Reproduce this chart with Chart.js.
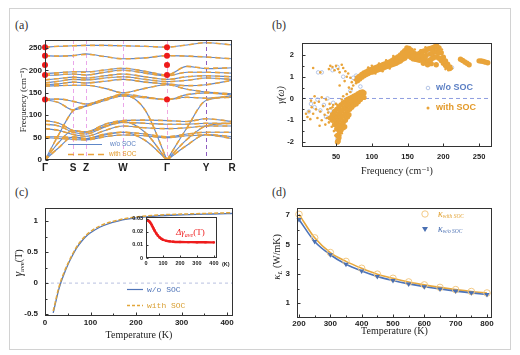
<!DOCTYPE html>
<html><head><meta charset="utf-8">
<script src="https://cdn.jsdelivr.net/npm/chart.js@4.4.1/dist/chart.umd.min.js"></script>
<style>
html,body{margin:0;padding:0;background:#fff;width:520px;height:355px;overflow:hidden;position:relative}
.frame{position:absolute;left:9px;top:8px;width:500px;height:340px;border:1px solid #d2d2d2}
canvas{position:absolute}
.lbl{position:absolute;font-family:'Liberation Serif',serif;font-size:12px;line-height:12px;color:#333}
</style></head><body>
<div class="frame"></div>
<div class="lbl" style="left:15px;top:19px">(a)</div>
<div class="lbl" style="left:272px;top:19px">(b)</div>
<div class="lbl" style="left:15px;top:186px">(c)</div>
<div class="lbl" style="left:272px;top:186px">(d)</div>
<canvas id="ca" width="240" height="150" style="left:10px;top:30px"></canvas>
<canvas id="cb" width="240" height="150" style="left:265px;top:30px"></canvas>
<canvas id="cc" width="240" height="150" style="left:10px;top:195px"></canvas>
<canvas id="ci" width="118" height="60" style="left:118px;top:212px"></canvas>
<canvas id="cd" width="240" height="150" style="left:265px;top:195px"></canvas>
<script>
// ================= DATA =================
// (a) phonon band structure
const kLabels = ['Γ','S','Z','W','Γ','Y','R'];
const kPos = [0, 28, 41, 78, 122, 161, 187];
const kPath = [0, 14, 28, 41, 60, 78, 100, 122, 142, 161, 187];
const freqTicks = [0, 50, 100, 150, 200, 250];
const bandsWoSOC = [
  [252,254,255,256,256,255,254,252,257,262,257],
  [233,232,233,237,231,226,228,233,232,230,226],
  [193,195,197,197,201,205,198,190,209,204,206],
  [189,190,192,190,196,201,194,188,196,196,194],
  [179,182,185,183,188,192,186,180,186,188,186],
  [172,176,180,179,183,186,180,175,178,183,180],
  [168,170,174,172,176,180,174,170,166,168,178],
  [165,166,167,167,160,150,160,168,158,152,148],
  [136,136,131,125,136,147,141,135,146,150,145],
  [135,128,112,120,133,143,139,135,140,138,143],
  [0,58,110,121,136,145,112,0,72,133,140],
  [0,40,66,62,76,86,62,0,46,76,82],
  [0,28,52,48,56,62,44,0,33,57,52],
  [88,82,66,63,80,88,89,88,86,92,86],
  [80,76,62,58,74,84,82,80,80,82,82],
  [70,66,57,53,66,76,72,70,72,76,76],
  [52,52,50,48,58,62,58,52,58,62,62],
  [50,48,46,45,52,56,54,50,54,56,48]
];
const bandsWithSOC = [
  [252,254,255,256,256,255,254,252,257,262,257],
  [233,232,233,236,231,226,228,233,232,230,226],
  [192,195,197,196,201,205,198,190,209,205,206],
  [189,191,192,190,196,200,194,188,196,196,194],
  [179,182,185,183,188,192,186,180,186,188,186],
  [172,176,180,179,183,186,180,175,178,183,180],
  [168,170,174,172,176,180,174,170,166,168,178],
  [165,166,167,167,160,150,160,168,158,152,148],
  [136,136,131,125,136,147,141,135,146,150,145],
  [135,128,112,120,133,143,139,135,140,138,143],
  [0,58,110,121,136,145,112,0,72,133,140],
  [0,40,66,62,76,86,62,0,46,76,82],
  [0,28,52,48,56,62,44,0,33,57,52],
  [88,82,66,63,80,88,89,88,86,92,86],
  [80,76,62,58,74,84,82,80,80,82,82],
  [70,66,57,53,66,76,72,70,72,76,76],
  [52,52,50,48,58,62,58,52,58,62,62],
  [50,48,46,45,52,56,54,50,54,56,48]
];
const acousticBands = [10, 11, 12];
const gammaModes = [252, 233, 212, 190, 135];

// (b) mode Grüneisen parameters
const omegaTicks = [50, 100, 150, 200, 250];
const gammaTicks = [-2, -1, 0, 1, 2];
const gammaMinor = [-1.5, -0.5, 0.5, 1.5];
const gammaWoSOC = [[25,1.2],[30,1.2],[20,-0.4],[24,-0.05],[33,-0.3],[38,0.0],[42,-0.55],[46,-0.2],[48,-0.95],[52,-1.25],[55,-1.5],[58,-0.55],[62,-0.25],[45,1.3],[52,1.45],[60,1.0],[70,0.35],[74,0.95],[78,1.05],[84,0.55],[88,1.0],[96,1.25],[108,1.45],[126,1.62],[140,1.95],[150,2.15],[158,2.0],[168,2.05],[178,2.15],[190,2.3],[199,1.8],[52,-1.85],[36,-0.85],[15,-0.25],[66,-0.75],[80,-0.05],[72,-0.2],[12,-0.6],[28,-0.55],[57,-1.1],[64,-0.5],[86,0.25],[226,1.75],[252,1.7],[212,1.42],[184,1.9],[165,1.88]];
const gammaWithSOC = [[10,-0.85],[12,-0.6],[14,-0.95],[16,-0.4],[18,-0.7],[20,-0.2],[22,-0.5],[24,-0.9],[26,-0.15],[28,-0.6],[30,-1.0],[32,-0.35],[34,-0.75],[36,-0.05],[38,-0.5],[40,-1.1],[41,-0.25],[43,-0.8],[44,-1.3],[45,-0.4],[46,-1.0],[47,-1.5],[49,-1.7],[56,-1.7],[58,-1.6],[35,-1.2],[27,-1.25],[15,-0.1],[8,-0.7],
  [18,1.4],[28,1.2],[40,1.35],[42,1.5],[45,1.45],[48,1.3],[50,1.5],[53,1.35],[55,1.2],[58,1.55],[60,1.4],[63,1.25],[65,1.0],[67,1.15],[70,0.95],[72,0.75],[74,0.6],[76,0.85],[78,0.7],[62,0.8],[55,0.6],[68,0.5],[20,0.1],[30,0.05],
  [65,0.2],[60,0.1],[70,0.3],[72,0.45],[58,-0.05],[100,1.5],[110,1.6],[120,1.75],[130,1.95],[95,1.42],[105,1.15],[115,1.25],[125,1.38],[160,2.25],[168,2.22],[175,2.35],[198,2.25],[203,1.35],[207,1.3],[212,1.38],
  [42,-0.45],[44,-0.7],[46,-0.3],[39,-0.65],[37,-0.9],[50,-0.25],[52,-0.3]];
const gammaWithSOCDense = [[80,0.82],[80,0.95],[83,0.9],[83,1.02],[86,0.98],[86,1.1],[89,1.05],[89,1.17],[92,1.1],[92,1.22],[95,1.15],[95,1.28],[98,1.2],[98,1.32],[101,1.22],[101,1.35],[104,1.26],[104,1.4],[107,1.3],[107,1.44],[110,1.33],[110,1.48],[113,1.36],[113,1.52],[116,1.4],[116,1.56],[119,1.45],[119,1.6],[122,1.48],[122,1.64],[125,1.52],[125,1.68],[128,1.55],[128,1.74],[131,1.58],[131,1.8],[134,1.62],[134,1.86],[137,1.68],[137,1.92],[140,1.72],[140,2.0],[143,1.8],[143,2.1],[146,1.85],[146,2.2],[149,1.95],[149,2.32],[152,1.95],[152,2.3],[155,1.88],[155,2.22],[158,1.82],[158,2.1],[161,1.8],[161,2.05],[164,1.78],[164,2.02],[167,1.76],[167,2.08],[170,1.8],[170,2.15],[173,1.82],[173,2.18],[176,1.75],[176,2.2],[179,1.7],[179,2.28],[182,1.78],[182,2.3],[185,1.85],[185,2.33],[188,1.9],[188,2.38],[191,1.92],[191,2.4],[194,1.85],[194,2.32],[197,1.75],[197,2.1],[200,1.62],[200,1.9],[203,1.52],[203,1.72],[206,1.45],[206,1.58],[209,1.38],[209,1.45],
  [146,2.02],[149,2.12],[152,2.12],[155,2.05],[170,1.98],[176,1.98],[182,2.05],[185,2.1],[188,2.15],[191,2.15],[194,2.1],[140,1.86],[134,1.74],[128,1.65],[158,1.96],[164,1.9],[183,1.6],[190,1.55],[178,1.55],[172,1.62],
  [224,1.8],[227,1.75],[230,1.68],[233,1.62],[236,1.55],[250,1.73],[253,1.72],[256,1.7],[259,1.67],[262,1.64],
  [48,-0.6],[48,-0.9],[48,-1.2],[51,-0.5],[51,-0.8],[51,-1.1],[51,-1.4],[52,-1.7],[53,-1.95],[52,-2.0],[54,-1.8],[54,-0.4],[54,-0.7],[54,-1.0],[54,-1.3],[55,-1.55],[57,-0.3],[57,-0.6],[57,-0.9],[57,-1.2],[57,-1.45],[60,-0.2],[60,-0.5],[60,-0.8],[60,-1.1],[60,-1.35],[63,-0.15],[63,-0.4],[63,-0.7],[63,-1.0],[62,-1.3],[66,-0.05],[66,-0.3],[66,-0.55],[66,-0.85],[69,0.0],[69,-0.25],[69,-0.5],[68,-0.75],[72,0.05],[72,-0.15],[72,-0.4],[75,0.1],[75,-0.1],[75,-0.3],[78,0.15],[78,-0.05],[78,-0.25],[81,0.22],[81,0.02],[81,-0.15],[84,0.28],[84,0.08],[84,-0.05],[87,0.3],[87,0.12],[89,0.25],[89,0.05],
  [45,-0.75],[45,-1.0],[42,-0.9]];

// (c) average Grüneisen parameter
const tempC = [18,20,25,30,35,40,50,60,70,80,90,100,120,140,160,180,200,250,300,350,400,413];
const gAveWoSOC = [-0.48,-0.42,-0.26,-0.11,0.01,0.11,0.29,0.44,0.57,0.67,0.75,0.81,0.90,0.96,1.00,1.03,1.05,1.085,1.10,1.11,1.12,1.122];
const gAveWithSOC = [-0.45,-0.39,-0.23,-0.08,0.04,0.14,0.31,0.46,0.59,0.69,0.77,0.83,0.92,0.975,1.015,1.045,1.065,1.097,1.112,1.122,1.132,1.134];
const tempTicksC = [0,100,200,300,400];
const tempMinorC = [50,150,250,350];
const gAveTicks = [-0.5,0,0.5,1];
const gAveMinor = [-0.25,0.25,0.75];
const tempInset = [5,10,15,20,25,30,35,40,45,50,60,70,80,90,100,120,140,160,200,250,300,350,400];
const dGamma = [0.0292,0.029,0.0285,0.028,0.0272,0.0262,0.025,0.0238,0.0225,0.0212,0.019,0.0172,0.0158,0.0148,0.014,0.0132,0.0128,0.0125,0.0123,0.0122,0.0121,0.0121,0.012];
const insetXTicks = [0,100,200,300,400];
const insetYTicks = [0,0.01,0.02,0.03];

// (d) lattice thermal conductivity
const tempD = [200,250,300,350,400,450,500,550,600,650,700,750,800];
const kappaWithSOC = [7.05,5.45,4.45,3.85,3.38,2.98,2.7,2.45,2.25,2.08,1.93,1.8,1.7];
const kappaWoSOC = [6.7,5.2,4.3,3.65,3.2,2.83,2.55,2.32,2.13,1.97,1.83,1.71,1.6];
const tempTicksD = [200,300,400,500,600,700,800];
const tempMinorD = [250,350,450,550,650,750];
const kappaTicks = [1,3,5,7];
const kappaMinor = [2,4,6];

// ================= HELPERS =================
const SERIF = "'Liberation Serif', 'DejaVu Serif', serif";
const SANS = "'Liberation Sans', Arial, sans-serif";
const MONO = "'Liberation Mono', 'DejaVu Sans Mono', monospace";
Chart.defaults.font.family = SANS;
Chart.defaults.color = '#222';
Chart.defaults.animation = false;
Chart.defaults.events = [];
Chart.defaults.plugins.legend.display = false;
Chart.defaults.plugins.tooltip.enabled = false;

const BLUE = '#6087c7', ORANGE = '#eba33b';

function axis(o){
  const isX = o.axis === 'x';
  return {
    type:'linear', min:o.min, max:o.max,
    grid:{display:false, drawTicks:false}, border:{display:false},
    afterBuildTicks: s => { s.ticks = o.ticks.map(v => ({value:v})); },
    afterFit: s => { if (isX) s.height = o.size; else s.width = o.size;
      s.paddingLeft = 0; s.paddingRight = 0; s.paddingTop = 0; s.paddingBottom = 0; },
    ticks:{autoSkip:false, maxRotation:0, minRotation:0, padding:o.pad,
      font:{size:o.fs || 8, weight:'bold'}, color:'#222', callback:o.fmt || (v => String(v))},
    title: o.title ? {display:true, text:o.title, color:'#222',
      font:{family:SERIF, size:o.tfs || 10, style:o.tstyle || 'normal'}, padding:o.tpad} : {display:false}
  };
}
function pts(xs, ys){ return xs.map((x,i) => ({x, y:ys[i]})); }
function pairs(arr){ return arr.map(p => ({x:p[0], y:p[1]})); }
function drawRich(ctx, parts, x, y, rot, align){
  ctx.save(); ctx.translate(x, y); if (rot) ctx.rotate(rot);
  let w = 0;
  parts.forEach(p => { ctx.font = p.f; p.w = ctx.measureText(p.t).width; w += p.w; });
  let cx = align === 'center' ? -w/2 : 0;
  ctx.textBaseline = 'middle'; ctx.textAlign = 'left';
  parts.forEach(p => { ctx.font = p.f; ctx.fillStyle = p.c || '#222'; ctx.fillText(p.t, cx, p.dy || 0); cx += p.w; });
  ctx.restore();
}
function deco(opt){
  return {
    id:'deco',
    beforeDraw(chart){ if (opt.fill){ const a = chart.chartArea; chart.ctx.save(); chart.ctx.fillStyle = '#fff'; chart.ctx.fillRect(a.left, a.top, a.right-a.left, a.bottom-a.top); chart.ctx.restore(); } },
    beforeDatasetsDraw(chart){ if (opt.before){ chart.ctx.save(); opt.before(chart); chart.ctx.restore(); } },
    afterDatasetsDraw(chart){
      const {ctx, chartArea:a} = chart; const x = chart.scales.x, y = chart.scales.y;
      ctx.save(); ctx.strokeStyle = '#333'; ctx.lineWidth = 1; ctx.setLineDash([]);
      const L = Math.round(a.left)+0.5, R = Math.round(a.right)-0.5, T = Math.round(a.top)+0.5, B = Math.round(a.bottom)-0.5;
      ctx.beginPath();
      (opt.xt || []).forEach(([v,l]) => { const p = Math.round(x.getPixelForValue(v))+0.5; ctx.moveTo(p,B); ctx.lineTo(p,B-l); });
      (opt.yt || []).forEach(([v,l]) => { const p = Math.round(y.getPixelForValue(v))+0.5; ctx.moveTo(L,p); ctx.lineTo(L+l,p); });
      ctx.stroke();
      ctx.strokeRect(L, T, R-L, B-T);
      ctx.restore();
      if (opt.after){ ctx.save(); opt.after(chart); ctx.restore(); }
    }
  };
}
function tk(major, minor, lm, ln){ return major.map(v => [v, lm]).concat((minor || []).map(v => [v, ln])); }
function hline(chart, v, color, dash){
  const {ctx, chartArea:a} = chart; const p = chart.scales.y.getPixelForValue(v);
  ctx.strokeStyle = color; ctx.lineWidth = 1; ctx.setLineDash(dash);
  ctx.beginPath(); ctx.moveTo(a.left, p); ctx.lineTo(a.right, p); ctx.stroke();
}

// ================= (a) =================
function bandPts(vals, split){
  const out = [];
  vals.forEach((v,i) => {
    if (split && i === 7){ out.push({x:kPath[i], y:v}); out.push({x:kPath[i], y:null}); }
    out.push({x:kPath[i], y:v});
  });
  return out;
}
const dsA = [];
bandsWoSOC.forEach((b,i) => dsA.push({data:bandPts(b, acousticBands.includes(i)), borderColor:BLUE, borderWidth:1.1,
  pointRadius:0, cubicInterpolationMode:'monotone', spanGaps:false, order:2}));
bandsWithSOC.forEach((b,i) => dsA.push({data:bandPts(b, acousticBands.includes(i)), borderColor:ORANGE, borderWidth:1.6,
  borderDash:[5,4], pointRadius:0, cubicInterpolationMode:'monotone', spanGaps:false, order:1}));
dsA.push({data:gammaModes.map(v => ({x:kPos[0], y:v})).concat(gammaModes.map(v => ({x:kPos[4], y:v}))),
  showLine:false, pointRadius:3, pointBackgroundColor:'#ee1a1a', pointBorderWidth:0, clip:false, order:0});

new Chart(document.getElementById('ca'), {
  type:'line', data:{datasets:dsA},
  options:{responsive:false, layout:{padding:{left:0, top:10, right:18, bottom:0}},
    scales:{
      x: axis({axis:'x', min:0, max:187, ticks:kPos, fmt:(v,i) => kLabels[i], size:20, pad:2, fs:10}),
      y: axis({axis:'y', min:0, max:268, ticks:freqTicks, size:35, pad:3, fs:8, title:'Frequency (cm⁻¹)', tfs:9, tpad:{top:8, bottom:0}})
    }},
  plugins:[deco({
    yt: tk(freqTicks, [], 3),
    before(chart){
      const {ctx, chartArea:a} = chart; const x = chart.scales.x;
      const cols = [null, '#eaa6ea', '#eaa6ea', '#eaa6ea', '#f0a8e0', '#8e5cc0'];
      for (let i = 1; i <= 5; i++){
        const p = Math.round(x.getPixelForValue(kPos[i])) + 0.5;
        ctx.strokeStyle = cols[i]; ctx.lineWidth = 1; ctx.setLineDash([4,3]);
        ctx.beginPath(); ctx.moveTo(p, a.top); ctx.lineTo(p, a.bottom); ctx.stroke();
      }
    },
    after(chart){
      const ctx = chart.ctx;
      ctx.lineWidth = 1.2; ctx.strokeStyle = BLUE; ctx.setLineDash([]);
      ctx.beginPath(); ctx.moveTo(58, 114.5); ctx.lineTo(92, 114.5); ctx.stroke();
      ctx.lineWidth = 1.6; ctx.strokeStyle = ORANGE; ctx.setLineDash([6,4]);
      ctx.beginPath(); ctx.moveTo(58, 124.5); ctx.lineTo(94, 124.5); ctx.stroke();
      ctx.setLineDash([]);
      drawRich(ctx, [{t:'w/o SOC', f:'6.5px '+SANS, c:'#5b80c2'}], 100, 114.5);
      drawRich(ctx, [{t:'with SOC', f:'6.5px '+SANS, c:'#e39a2a'}], 99, 124.5);
    }
  })]
});

// ================= (b) =================
new Chart(document.getElementById('cb'), {
  type:'scatter',
  data:{datasets:[
    {data:pairs(gammaWoSOC), pointRadius:1.8, pointBackgroundColor:'rgba(0,0,0,0)', pointBorderColor:'#a3b8e0', pointBorderWidth:0.8, order:3},
    {data:pairs(gammaWithSOC), pointRadius:1.3, pointBackgroundColor:'#e9a43a', pointBorderWidth:0, order:2},
    {data:pairs(gammaWithSOCDense), pointRadius:2.7, pointBackgroundColor:'#e9a43a', pointBorderWidth:0, order:1}
  ]},
  options:{responsive:false, layout:{padding:{left:0, top:13, right:13, bottom:0}},
    scales:{
      x: axis({axis:'x', min:2.4, max:268, ticks:omegaTicks, size:33, pad:5, fs:7.5, title:'Frequency (cm⁻¹)', tfs:10, tpad:{top:0, bottom:3}}),
      y: axis({axis:'y', min:-2.23, max:2.55, ticks:gammaTicks, size:37, pad:8, fs:7.5, title:'γ(ω)', tfs:10, tstyle:'italic', tpad:{top:10, bottom:0}})
    }},
  plugins:[deco({
    xt: tk(omegaTicks, [], 3), yt: tk(gammaTicks, gammaMinor, 3, 2),
    before(chart){ hline(chart, 0, '#8e9ee0', [4,3]); },
    after(chart){
      const ctx = chart.ctx;
      ctx.strokeStyle = '#a3b8e0'; ctx.lineWidth = 0.8;
      ctx.beginPath(); ctx.arc(163, 58, 1.8, 0, Math.PI*2); ctx.stroke();
      ctx.fillStyle = '#e9a43a'; ctx.beginPath(); ctx.arc(163, 78, 1.5, 0, Math.PI*2); ctx.fill();
      drawRich(ctx, [{t:'w/o SOC', f:'bold 9px '+SANS, c:'#5b7fc4'}], 171, 58);
      drawRich(ctx, [{t:'with SOC', f:'bold 9px '+SANS, c:'#e39a2a'}], 171, 78);
    }
  })]
});

// ================= (c) =================
new Chart(document.getElementById('cc'), {
  type:'line',
  data:{datasets:[
    {data:pts(tempC, gAveWoSOC), borderColor:'#4f74b8', borderWidth:1.3, pointRadius:0, cubicInterpolationMode:'monotone', order:2},
    {data:pts(tempC, gAveWithSOC), borderColor:'#e2a63a', borderWidth:1.5, borderDash:[4,2], pointRadius:0, cubicInterpolationMode:'monotone', order:1}
  ]},
  options:{responsive:false, layout:{padding:{left:0, top:13, right:17, bottom:0}},
    scales:{
      x: axis({axis:'x', min:0, max:413, ticks:tempTicksC, size:29, pad:2, fs:8, title:'Temperature (K)', tfs:10, tpad:{top:0, bottom:4}}),
      y: axis({axis:'y', min:-0.53, max:1.21, ticks:gAveTicks, size:35, pad:7, fs:8, fmt:v => String(v)})
    }},
  plugins:[deco({
    xt: tk(tempTicksC, tempMinorC, 3, 2), yt: tk(gAveTicks, gAveMinor, 3, 2),
    before(chart){ hline(chart, 0, '#b8c0e0', [3,3]); },
    after(chart){
      const ctx = chart.ctx;
      drawRich(ctx, [{t:'γ', f:'italic 12px '+SERIF}, {t:'ave', f:'7px '+SERIF, dy:3}, {t:'(T)', f:'10px '+SERIF}], 9, 68, -Math.PI/2, 'center');
      ctx.lineWidth = 1.2; ctx.strokeStyle = '#4f74b8'; ctx.setLineDash([]);
      ctx.beginPath(); ctx.moveTo(117, 94.5); ctx.lineTo(133, 94.5); ctx.stroke();
      ctx.lineWidth = 1.4; ctx.strokeStyle = '#e2a63a'; ctx.setLineDash([3,2]);
      ctx.beginPath(); ctx.moveTo(117, 110.5); ctx.lineTo(133, 110.5); ctx.stroke();
      ctx.setLineDash([]);
      drawRich(ctx, [{t:'w/o SOC', f:'8px '+MONO, c:'#4f74b8'}], 137, 94.5);
      drawRich(ctx, [{t:'with SOC', f:'8px '+MONO, c:'#d9a035'}], 137, 110.5);
    }
  })]
});

// ---- inset ----
new Chart(document.getElementById('ci'), {
  type:'line',
  data:{datasets:[
    {data:pts(tempInset, dGamma), borderColor:'#ee1c1c', borderWidth:2.4, pointRadius:1.6, pointStyle:'rect',
     pointBackgroundColor:'#ee1c1c', pointBorderWidth:0, cubicInterpolationMode:'monotone'}
  ]},
  options:{responsive:false, layout:{padding:{left:0, top:5, right:19, bottom:0}},
    scales:{
      x: axis({axis:'x', min:0, max:418, ticks:insetXTicks, size:14, pad:2, fs:5.5}),
      y: axis({axis:'y', min:0, max:0.0315, ticks:insetYTicks, size:28, pad:3, fs:5.5, fmt:v => v === 0 ? '0' : v.toFixed(2)})
    }},
  plugins:[deco({
    fill:true,
    xt: tk(insetXTicks, [], 2), yt: tk(insetYTicks, [], 2),
    after(chart){
      const ctx = chart.ctx;
      drawRich(ctx, [{t:'(K)', f:'bold 5.5px '+SANS}], 104, 52);
      drawRich(ctx, [{t:'Δγ', f:'italic 9px '+SERIF, c:'#ee1c1c'}, {t:'ave', f:'italic 6px '+SERIF, c:'#ee1c1c', dy:2.5}, {t:'(T)', f:'9px '+SERIF, c:'#ee1c1c'}], 58, 21);
    }
  })]
});

// ================= (d) =================
new Chart(document.getElementById('cd'), {
  type:'line',
  data:{datasets:[
    {data:pts(tempD, kappaWithSOC), borderColor:'#e8a83c', borderWidth:1.6, pointRadius:0, cubicInterpolationMode:'monotone', order:4},
    {data:pts(tempD, kappaWoSOC), borderColor:'#4d74b9', borderWidth:1.6, pointRadius:0, cubicInterpolationMode:'monotone', order:3},
    {data:pts(tempD, kappaWithSOC), showLine:false, pointRadius:3.3, pointStyle:'circle', pointBackgroundColor:'rgba(0,0,0,0)', pointBorderColor:'#f3c983', pointBorderWidth:1, clip:false, order:2},
    {data:pts(tempD, kappaWoSOC), showLine:false, pointRadius:3, pointStyle:'triangle', rotation:180, pointRotation:180, pointBackgroundColor:'#4a70b3', pointBorderColor:'#4a70b3', pointBorderWidth:0, clip:false, order:1}
  ]},
  options:{responsive:false, layout:{padding:{left:0, top:13, right:13, bottom:0}},
    scales:{
      x: axis({axis:'x', min:193.6, max:816, ticks:tempTicksD, size:27, pad:1, fs:8, title:'Temperature (K)', tfs:10, tpad:{top:0, bottom:8}}),
      y: axis({axis:'y', min:0, max:7.48, ticks:kappaTicks, size:32, pad:7, fs:8})
    }},
  plugins:[deco({
    xt: tk(tempTicksD, tempMinorD, 3, 2), yt: tk(kappaTicks, kappaMinor, 3, 2),
    after(chart){
      const ctx = chart.ctx;
      drawRich(ctx, [{t:'κ', f:'italic 11px '+SERIF}, {t:'L', f:'italic 7px '+SERIF, dy:3}, {t:' (W/mK)', f:'10px '+SERIF}], 12, 62, -Math.PI/2, 'center');
      ctx.strokeStyle = '#f3c983'; ctx.lineWidth = 1;
      ctx.beginPath(); ctx.arc(160, 19, 3.2, 0, Math.PI*2); ctx.stroke();
      ctx.fillStyle = '#4a70b3';
      ctx.beginPath(); ctx.moveTo(157, 32); ctx.lineTo(163, 32); ctx.lineTo(160, 37); ctx.closePath(); ctx.fill();
      drawRich(ctx, [{t:'κ', f:'italic 10px '+SERIF, c:'#e0a030'}, {t:'with SOC', f:'italic 5.5px '+SERIF, c:'#e0a030', dy:2.5}], 173, 19);
      drawRich(ctx, [{t:'κ', f:'italic 10px '+SERIF, c:'#4a70b3'}, {t:'w/o SOC', f:'italic 5.5px '+SERIF, c:'#4a70b3', dy:2.5}], 173, 34);
    }
  })]
});
</script>
</body></html>
